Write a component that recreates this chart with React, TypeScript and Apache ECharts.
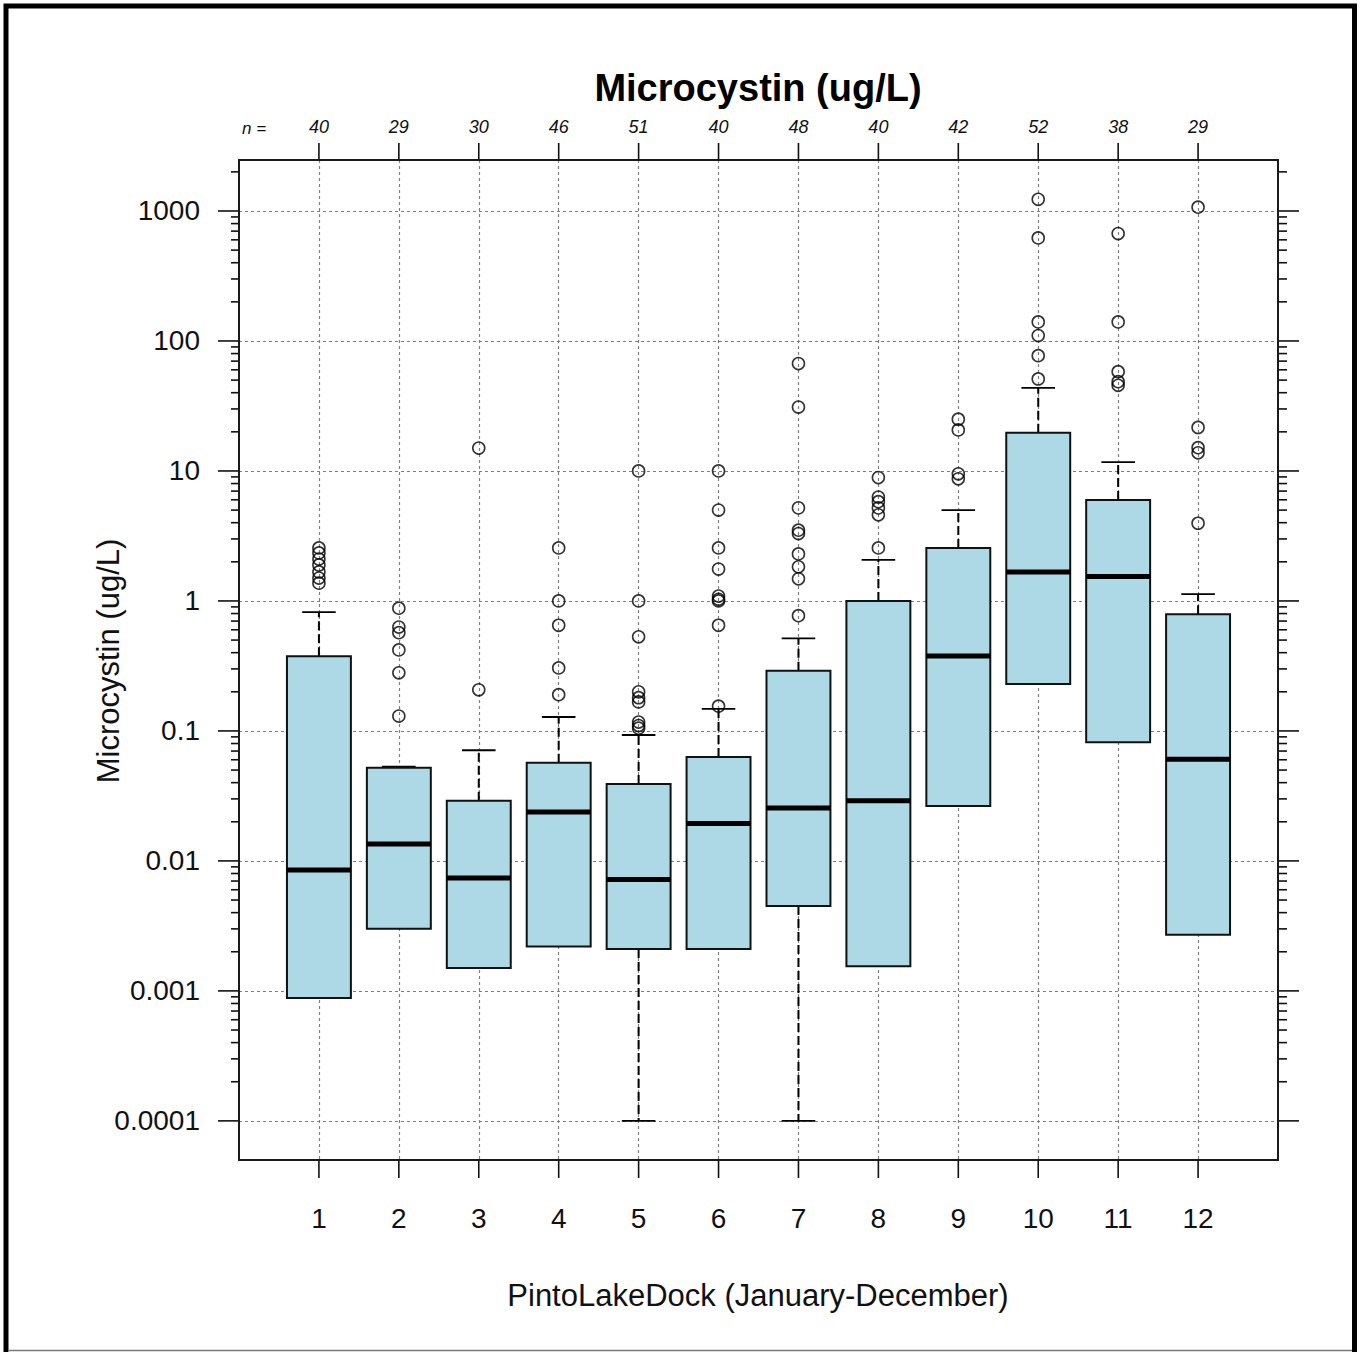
import React, { useEffect, useRef } from "react";
import * as echarts from "echarts";

// ---- data ----
const months = [1, 2, 3, 4, 5, 6, 7, 8, 9, 10, 11, 12];
const nCounts = [40, 29, 30, 46, 51, 40, 48, 40, 42, 52, 38, 29];
const lowerWhisker = [0.00088, 0.003, 0.0015, 0.0022, 0.0001, 0.0021, 0.0001, 0.00155, 0.0265, 0.23, 0.082, 0.0027];
const q1 = [0.00088, 0.003, 0.0015, 0.0022, 0.0021, 0.0021, 0.0045, 0.00155, 0.0265, 0.23, 0.082, 0.0027];
const medians = [0.0085, 0.0135, 0.0074, 0.0238, 0.0072, 0.0194, 0.0255, 0.029, 0.377, 1.67, 1.54, 0.0605];
const q3 = [0.375, 0.052, 0.029, 0.057, 0.039, 0.063, 0.29, 1.0, 2.56, 19.7, 5.98, 0.79];
const upperWhisker = [0.82, 0.053, 0.071, 0.128, 0.093, 0.148, 0.515, 2.07, 5.0, 43.5, 11.7, 1.13];
const outliers = [
  [1.37, 1.5, 1.67, 1.89, 2.1, 2.34, 2.56],
  [0.13, 0.28, 0.42, 0.57, 0.63, 0.88],
  [0.207, 15],
  [0.19, 0.305, 0.65, 1.0, 2.56],
  [0.105, 0.11, 0.117, 0.167, 0.18, 0.2, 0.53, 1.0, 10],
  [0.155, 0.65, 1.0, 1.03, 1.09, 1.76, 2.56, 5.0, 10],
  [0.77, 1.48, 1.83, 2.3, 3.3, 3.5, 5.2, 31, 67],
  [2.56, 4.6, 5.2, 5.8, 6.3, 8.9],
  [8.7, 9.5, 20.7, 25],
  [51, 77, 110, 140, 620, 1230],
  [45.6, 48.6, 58, 140, 670],
  [3.96, 13.8, 15.1, 21.6, 1070],
];
const yTickLabels = ["0.0001", "0.001", "0.01", "0.1", "1", "10", "100", "1000"];
const yMajorTicks = [0.0001, 0.001, 0.01, 0.1, 1, 10, 100, 1000];
const minorMultipliers = [2, 3, 4, 5, 6, 7, 8, 9];

const Y_MIN = 5e-5;
const Y_MAX = 2468;
const X_MIN = 0;
const X_MAX = 13;

const FONT = '"Liberation Sans", Arial, sans-serif';
const BLUE = "#ADD8E6";

const boxData = months.map((m, i) => [m, lowerWhisker[i], q1[i], medians[i], q3[i], upperWhisker[i]]);
const outlierData: number[][] = [];
months.forEach((m, i) => outliers[i].forEach((v) => outlierData.push([m, v])));

const yTickData: number[][] = [];
yMajorTicks.forEach((v) => {
  yTickData.push([X_MIN, v, 1]);
  minorMultipliers.forEach((k) => {
    const mv = k * v;
    if (mv < Y_MAX) yTickData.push([X_MIN, mv, 0]);
  });
});
const xTickData = months.map((m) => [m, Y_MAX]);

function yLabel(v: number): string {
  const e = Math.log10(v);
  const r = Math.round(e);
  if (Math.abs(e - r) > 1e-6) return "";
  return yTickLabels[r + 4] ?? "";
}

const gridLine = { color: "#7f7f7f", type: [3, 3] as number[], width: 1.2 };

const option: any = {
  animation: false,
  backgroundColor: "#ffffff",
  textStyle: { fontFamily: FONT },
  grid: {
    left: 239,
    top: 160,
    width: 1039,
    height: 1000,
    show: false,
  },
  xAxis: [
    {
      type: "value",
      min: X_MIN,
      max: X_MAX,
      interval: 1,
      position: "bottom",
      axisLine: { show: false },
      axisTick: { show: false },
      axisLabel: {
        formatter: (v: number) => (v >= 1 && v <= 12 ? String(v) : ""),
        fontSize: 28,
        color: "#111",
        margin: 44,
        fontFamily: FONT,
      },
      splitLine: { show: true, showMinLine: false, showMaxLine: false, lineStyle: gridLine },
    },
    {
      type: "value",
      min: X_MIN,
      max: X_MAX,
      interval: 1,
      position: "top",
      axisLine: { show: false },
      axisTick: { show: false },
      axisLabel: {
        formatter: (v: number) => (v >= 1 && v <= 12 ? String(nCounts[v - 1]) : ""),
        fontSize: 18,
        fontStyle: "italic",
        color: "#111",
        margin: 24,
        fontFamily: FONT,
      },
      splitLine: { show: false },
    },
  ],
  yAxis: {
    type: "log",
    logBase: 10,
    min: Y_MIN,
    max: Y_MAX,
    axisLine: { show: false },
    axisTick: { show: false },
    axisLabel: { formatter: yLabel, fontSize: 28, color: "#111", margin: 39, fontFamily: FONT },
    splitLine: { show: true, showMinLine: false, showMaxLine: false, lineStyle: gridLine },
  },
  series: [
    {
      type: "custom",
      name: "yticks",
      clip: false,
      silent: true,
      data: yTickData,
      encode: { x: 0, y: 1 },
      renderItem: (params: any, api: any) => {
        const v = api.value(1);
        const major = api.value(2) === 1;
        const pL = api.coord([X_MIN, v]);
        const pR = api.coord([X_MAX, v]);
        const y = pL[1];
        const lenL = major ? 21 : 8;
        const lenR = major ? 21 : 9;
        const st = { stroke: "#111", lineWidth: 1.6 };
        return {
          type: "group",
          children: [
            { type: "line", shape: { x1: pL[0] - lenL, y1: y, x2: pL[0], y2: y }, style: st },
            { type: "line", shape: { x1: pR[0], y1: y, x2: pR[0] + lenR, y2: y }, style: st },
          ],
        };
      },
      z: 5,
    },
    {
      type: "custom",
      name: "xticks",
      clip: false,
      silent: true,
      data: xTickData,
      encode: { x: 0, y: 1 },
      renderItem: (params: any, api: any) => {
        const m = api.value(0);
        const top = api.coord([m, Y_MAX]);
        const bot = api.coord([m, Y_MIN]);
        const st = { stroke: "#111", lineWidth: 1.6 };
        return {
          type: "group",
          children: [
            { type: "line", shape: { x1: bot[0], y1: bot[1], x2: bot[0], y2: bot[1] + 18 }, style: st },
            { type: "line", shape: { x1: top[0], y1: top[1], x2: top[0], y2: top[1] - 17 }, style: st },
          ],
        };
      },
      z: 5,
    },
    {
      type: "custom",
      name: "frame",
      clip: false,
      silent: true,
      data: [[X_MIN, Y_MAX]],
      encode: { x: 0, y: 1 },
      renderItem: (params: any, api: any) => {
        const tl = api.coord([X_MIN, Y_MAX]);
        const br = api.coord([X_MAX, Y_MIN]);
        return {
          type: "rect",
          shape: { x: tl[0], y: tl[1], width: br[0] - tl[0], height: br[1] - tl[1] },
          style: { fill: "none", stroke: "#1a1a1a", lineWidth: 2 },
        };
      },
      z: 6,
    },
    {
      type: "custom",
      name: "boxes",
      data: boxData,
      encode: { x: 0, y: [1, 2, 3, 4, 5] },
      renderItem: (params: any, api: any) => {
        const m = api.value(0);
        const lw = api.value(1);
        const b = api.value(2);
        const md = api.value(3);
        const t = api.value(4);
        const uw = api.value(5);
        const cx = api.coord([m, md])[0];
        const xl = api.coord([m - 0.4, md])[0];
        const xr = api.coord([m + 0.4, md])[0];
        const capH = api.coord([m + 0.21, md])[0] - cx;
        const yB = api.coord([m, b])[1];
        const yT = api.coord([m, t])[1];
        const yM = api.coord([m, md])[1];
        const yU = api.coord([m, uw])[1];
        const yL = api.coord([m, lw])[1];
        const dash = { stroke: "#000", lineWidth: 2, lineDash: [9, 4] };
        const solid = { stroke: "#000", lineWidth: 1.8 };
        const children: any[] = [];
        if (uw > t) {
          children.push({ type: "line", shape: { x1: cx, y1: yT, x2: cx, y2: yU }, style: dash });
          children.push({ type: "line", shape: { x1: cx - capH, y1: yU, x2: cx + capH, y2: yU }, style: solid });
        }
        if (lw < b) {
          children.push({ type: "line", shape: { x1: cx, y1: yB, x2: cx, y2: yL }, style: dash });
          children.push({ type: "line", shape: { x1: cx - capH, y1: yL, x2: cx + capH, y2: yL }, style: solid });
        }
        children.push({
          type: "rect",
          shape: { x: xl, y: yT, width: xr - xl, height: yB - yT },
          style: { fill: BLUE, stroke: "#111", lineWidth: 2 },
        });
        children.push({
          type: "line",
          shape: { x1: xl, y1: yM, x2: xr, y2: yM },
          style: { stroke: "#000", lineWidth: 5 },
        });
        return { type: "group", children };
      },
      z: 3,
    },
    {
      type: "scatter",
      name: "outliers",
      data: outlierData,
      symbol: "circle",
      symbolSize: 12,
      itemStyle: { color: "transparent", borderColor: "#000", borderWidth: 1.6 },
      z: 4,
    },
  ],
  graphic: [
    {
      type: "rect",
      shape: { x: 6, y: 6, width: 1348.5, height: 1400 },
      style: { fill: "none", stroke: "#000", lineWidth: 5 },
      silent: true,
    },
    {
      type: "line",
      shape: { x1: 8, y1: 1350.5, x2: 1352, y2: 1350.5 },
      style: { stroke: "#7a7a7a", lineWidth: 1.5 },
      silent: true,
    },
    {
      type: "text",
      x: 758,
      y: 88,
      style: {
        text: "Microcystin (ug/L)",
        font: `bold 38px ${FONT}`,
        fill: "#000",
        align: "center",
        verticalAlign: "middle",
        textAlign: "center",
        textVerticalAlign: "middle",
      },
    },
    {
      type: "text",
      x: 254,
      y: 128,
      style: {
        text: "n =",
        font: `italic 17px ${FONT}`,
        fill: "#111",
        align: "center",
        verticalAlign: "middle",
        textAlign: "center",
        textVerticalAlign: "middle",
      },
    },
    {
      type: "text",
      x: 758,
      y: 1295,
      style: {
        text: "PintoLakeDock (January-December)",
        font: `31px ${FONT}`,
        fill: "#111",
        align: "center",
        verticalAlign: "middle",
        textAlign: "center",
        textVerticalAlign: "middle",
      },
    },
    {
      type: "text",
      x: 108,
      y: 661,
      rotation: Math.PI / 2,
      style: {
        text: "Microcystin (ug/L)",
        font: `31px ${FONT}`,
        fill: "#111",
        align: "center",
        verticalAlign: "middle",
        textAlign: "center",
        textVerticalAlign: "middle",
      },
    },
  ],
};

export default function App() {
  const ref = useRef<HTMLDivElement>(null);
  useEffect(() => {
    if (!ref.current) return;
    const chart = echarts.init(ref.current, null, { renderer: "svg" });
    chart.setOption(option);
    return () => {
      chart.dispose();
    };
  }, []);
  return (
    <div
      ref={ref}
      style={{ position: "absolute", left: 0, top: 0, width: 1360, height: 1352, background: "#fff" }}
    />
  );
}
